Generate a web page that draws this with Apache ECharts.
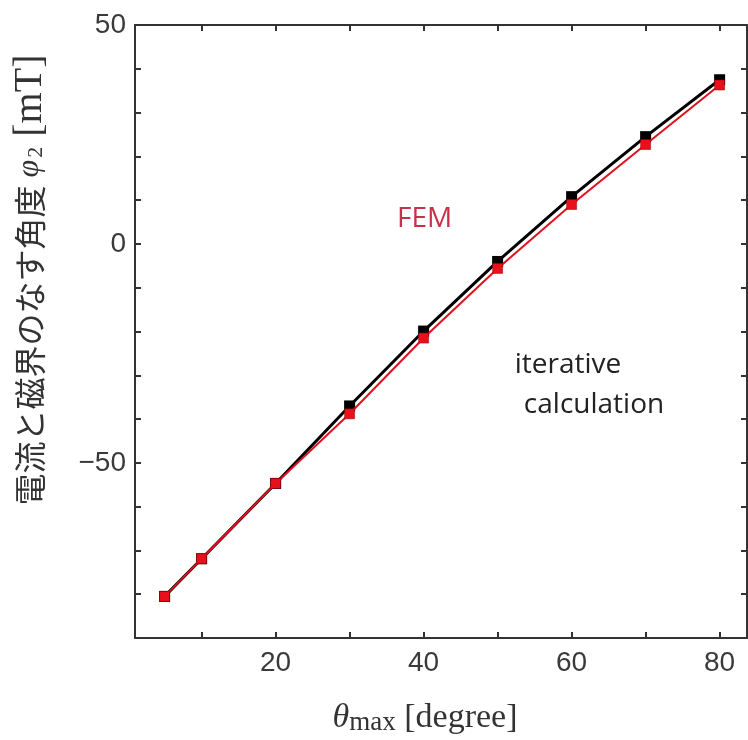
<!DOCTYPE html>
<html>
<head>
<meta charset="utf-8">
<script src="https://cdn.jsdelivr.net/npm/echarts@6/dist/echarts.min.js"></script>
<style>
html,body{margin:0;padding:0;background:#fff;}
#chart{width:748px;height:740px;}
</style>
</head>
<body>
<div id="chart"></div>
<script>
// Data
const thetaMax = [5, 10, 20, 30, 40, 50, 60, 70, 80];
const iterative = [-80.5, -71.9, -54.7, -37.0, -19.9, -4.0, 10.8, 24.5, 37.5];
const fem = [-80.5, -71.9, -54.7, -38.8, -21.5, -5.6, 9.0, 22.7, 36.3];
const xTickValues = [10, 20, 30, 40, 50, 60, 70, 80];
const xLabelValues = [20, 40, 60, 80];
const yLabelValues = [50, 0, -50];

const pairs = (xs, ys) => xs.map((x, i) => [x, ys[i]]);
const axisCol = '#333';

const chart = echarts.init(document.getElementById('chart'));
chart.setOption({
  animation: false,
  backgroundColor: '#fff',
  grid: { left: 135, top: 25, right: 1, bottom: 102, containLabel: false },
  xAxis: [
    {
      type: 'value', min: 1, max: 83.7, position: 'bottom',
      axisLine: { show: true, onZero: false, lineStyle: { color: axisCol, width: 2 } },
      axisTick: { show: true, inside: true, length: 6, customValues: xTickValues, lineStyle: { color: axisCol, width: 2 } },
      axisLabel: { customValues: xLabelValues, color: '#3a3a3a', fontSize: 28, fontFamily: 'Liberation Sans, Arial, sans-serif', margin: 11 },
      splitLine: { show: false }
    },
    {
      type: 'value', min: 1, max: 83.7, position: 'top',
      axisLine: { show: true, onZero: false, lineStyle: { color: axisCol, width: 2 } },
      axisTick: { show: true, inside: true, length: 6, customValues: xTickValues, lineStyle: { color: axisCol, width: 2 } },
      axisLabel: { show: false },
      splitLine: { show: false }
    }
  ],
  yAxis: [
    {
      type: 'value', min: -90, max: 50, interval: 10, position: 'left',
      axisLine: { show: true, onZero: false, lineStyle: { color: axisCol, width: 2 } },
      axisTick: { show: true, inside: true, length: 6, lineStyle: { color: axisCol, width: 2 } },
      axisLabel: {
        color: '#3a3a3a', fontSize: 28, fontFamily: 'Liberation Sans, Arial, sans-serif', margin: 9,
        formatter: v => yLabelValues.indexOf(v) >= 0 ? String(v).replace('-', '\u2212') : ''
      },
      splitLine: { show: false }
    },
    {
      type: 'value', min: -90, max: 50, interval: 10, position: 'right',
      axisLine: { show: true, onZero: false, lineStyle: { color: axisCol, width: 2 } },
      axisTick: { show: true, inside: true, length: 6, lineStyle: { color: axisCol, width: 2 } },
      axisLabel: { show: false },
      splitLine: { show: false }
    }
  ],
  series: [
    {
      name: 'iterative calculation', type: 'line', xAxisIndex: 0, yAxisIndex: 0,
      data: pairs(thetaMax, iterative),
      symbol: 'rect', symbolSize: 11,
      lineStyle: { color: '#000', width: 3 },
      itemStyle: { color: '#000' },
      z: 2
    },
    {
      name: 'FEM', type: 'line', xAxisIndex: 0, yAxisIndex: 0,
      data: pairs(thetaMax, fem),
      symbol: 'rect', symbolSize: 10,
      lineStyle: { color: '#e0101e', width: 2 },
      itemStyle: { color: '#e8101c', borderColor: '#900', borderWidth: 0.5 },
      z: 3
    }
  ],
  graphic: [
    {
      type: 'text', left: 397, top: 205,
      style: { text: 'FEM', fill: '#c8304a', font: '28px "Open Sans", "Noto Sans", sans-serif' }
    },
    {
      type: 'text', x: 568, y: 365,
      style: { text: 'iterative', fill: '#222', font: '28px "Open Sans", "Noto Sans", sans-serif', textAlign: 'center', textVerticalAlign: 'middle' }
    },
    {
      type: 'text', x: 594, y: 405,
      style: { text: 'calculation', fill: '#222', font: '28px "Open Sans", "Noto Sans", sans-serif', textAlign: 'center', textVerticalAlign: 'middle' }
    },
    {
      type: 'text', x: 425, y: 718,
      style: {
        text: '{t|θ}{s|max}{n| [degree]}',
        textAlign: 'center', textVerticalAlign: 'middle',
        rich: {
          t: { font: 'italic 34px "Liberation Serif", "DejaVu Serif", serif', fill: '#333' },
          s: { font: '27px "Liberation Serif", "DejaVu Serif", serif', fill: '#333', padding: [10, 0, 0, 0] },
          n: { font: '34px "Liberation Serif", "DejaVu Serif", serif', fill: '#333' }
        }
      }
    },
    {
      type: 'text', x: 30, y: 280, rotation: Math.PI / 2,
      style: {
        text: '{j|電流と磁界のなす角度}{p| φ}{s|2}{n| [mT]}',
        textAlign: 'center', textVerticalAlign: 'middle',
        rich: {
          j: { font: '32px "Noto Sans CJK JP", sans-serif', fill: '#333' },
          p: { font: 'italic 32px "Liberation Serif", "DejaVu Serif", serif', fill: '#333' },
          s: { font: '22px "Liberation Serif", "DejaVu Serif", serif', fill: '#333', padding: [12, 0, 0, 2] },
          n: { font: '40px "Liberation Serif", "DejaVu Serif", serif', fill: '#333' }
        }
      }
    }
  ]
});
</script>
</body>
</html>
